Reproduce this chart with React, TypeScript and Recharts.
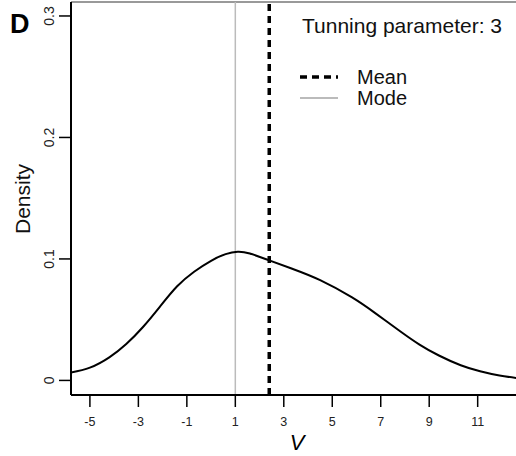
import { LineChart, Line, XAxis, YAxis, ReferenceLine } from "recharts";

const V_VALUES = [-5.78, -5.0, -4.2, -3.5, -2.8, -2.1, -1.4, -0.7, 0.0, 0.6, 1.1, 1.6, 2.4, 3.4, 4.5, 5.8, 6.8, 7.8, 8.6, 9.4, 10.3, 11.1, 11.9, 12.7];
const DENSITY = [0.0065, 0.0105, 0.019, 0.03, 0.0442, 0.061, 0.0775, 0.0895, 0.0985, 0.104, 0.106, 0.1045, 0.0988, 0.0915, 0.0825, 0.0685, 0.055, 0.0405, 0.0295, 0.0205, 0.0125, 0.0075, 0.004, 0.0018];
const X_TICKS = [-5, -3, -1, 1, 3, 5, 7, 9, 11];
const Y_TICKS = [0, 0.1, 0.2, 0.3];
const MEAN = 2.4;
const MODE = 1;
const TUNING = 3;

const X_MIN = -5.78;
const X_MAX = 12.87;
const Y_MIN = -0.012;
const Y_MAX = 0.3115;

const data = V_VALUES.map((v, i) => ({ v, density: DENSITY[i] }));

const FONT = "'Liberation Sans', Arial, sans-serif";

function YTick({ x, y, payload }: any) {
  return (
    <text
      x={x}
      y={y}
      transform={`rotate(-90, ${x}, ${y})`}
      textAnchor="middle"
      fontSize={14}
      fill="#222"
      fontFamily={FONT}
    >
      {String(payload.value)}
    </text>
  );
}

export default function App() {
  return (
    <div
      style={{
        position: "fixed",
        left: 0,
        top: 0,
        width: 516,
        height: 456,
        overflow: "hidden",
        background: "#fff",
        fontFamily: FONT,
      }}
    >
      <LineChart width={530} height={456} data={data} margin={{ top: 2, right: 7, left: 0, bottom: 0 }}>
        <XAxis
          type="number"
          dataKey="v"
          domain={[X_MIN, X_MAX]}
          allowDataOverflow
          ticks={X_TICKS}
          height={61}
          tickSize={12}
          tickMargin={10}
          axisLine={{ stroke: "#000", strokeWidth: 2 }}
          tickLine={{ stroke: "#000", strokeWidth: 1.5 }}
          tick={{ fontSize: 12.5, fill: "#222", fontFamily: FONT }}
          label={{ value: "V", position: "insideBottom", offset: 6, fontSize: 22, fontStyle: "italic", fill: "#000", fontFamily: FONT }}
        />
        <YAxis
          type="number"
          domain={[Y_MIN, Y_MAX]}
          allowDataOverflow
          ticks={Y_TICKS}
          width={71}
          tickSize={12}
          tickMargin={5}
          axisLine={{ stroke: "#000", strokeWidth: 2 }}
          tickLine={{ stroke: "#000", strokeWidth: 1.5 }}
          tick={<YTick />}
        />
        <ReferenceLine y={Y_MAX} stroke="#777" strokeWidth={1.5} />
        <ReferenceLine x={MODE} stroke="#bbb" strokeWidth={1.5} />
        <ReferenceLine x={MEAN} stroke="#000" strokeWidth={3.5} strokeDasharray="7 5" />
        <Line
          type="natural"
          dataKey="density"
          stroke="#000"
          strokeWidth={2}
          dot={false}
          isAnimationActive={false}
        />
      </LineChart>
      <svg width={516} height={456} style={{ position: "absolute", left: 0, top: 0, pointerEvents: "none" }}>
        <text x={10} y={33} fontSize={27} fontWeight="bold" fill="#000" fontFamily={FONT}>D</text>
        <text
          x={30}
          y={199}
          transform="rotate(-90, 30, 199)"
          textAnchor="middle"
          fontSize={21}
          fill="#111"
          fontFamily={FONT}
        >
          Density
        </text>
        {/* legend */}
        <text x={302} y={33} fontSize={21} fill="#111" fontFamily={FONT}>
          Tunning parameter: {TUNING}
        </text>
        <line x1={300} x2={338} y1={77} y2={77} stroke="#000" strokeWidth={3.5} strokeDasharray="7 5" />
        <text x={357} y={84} fontSize={20} fill="#111" fontFamily={FONT}>Mean</text>
        <line x1={300} x2={338} y1={98} y2={98} stroke="#bbb" strokeWidth={2} />
        <text x={357} y={105} fontSize={20} fill="#111" fontFamily={FONT}>Mode</text>
      </svg>
    </div>
  );
}
